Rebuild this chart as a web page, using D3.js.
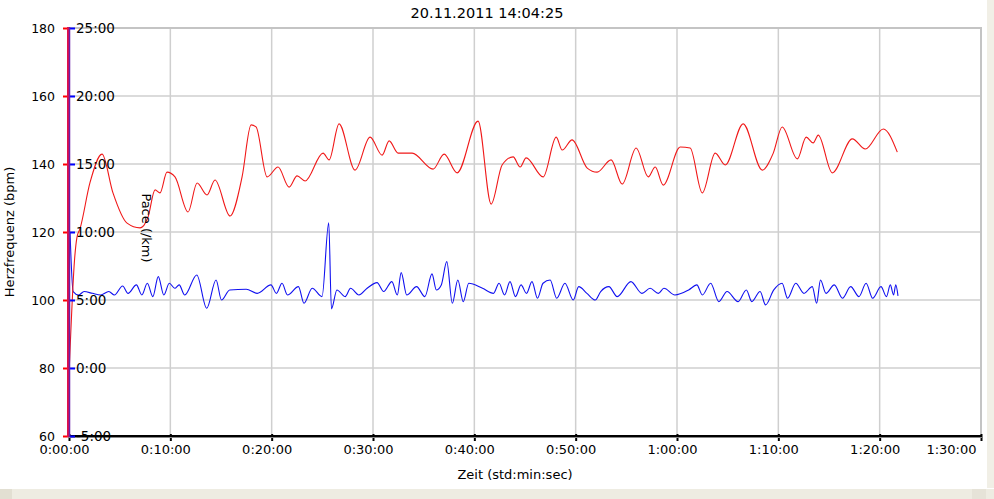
<!DOCTYPE html>
<html>
<head>
<meta charset="utf-8">
<script src="https://d3js.org/d3.v7.min.js"></script>
<style>
  html, body { margin: 0; padding: 0; background: #fff; }
  svg { display: block; font-family: "DejaVu Sans", Verdana, sans-serif; }
</style>
</head>
<body>
<svg width="994" height="499"></svg>
<script>
// time in minutes, heart rate in bpm
var hrTime = [0.05, 0.55, 0.79, 1.09, 2.07, 3.26, 4.34, 5.73, 7.01, 7.80, 8.49, 8.98, 9.67, 10.46, 11.75, 12.64, 13.62, 14.41, 15.89, 17.08, 17.97, 18.46, 19.55, 20.63, 21.72, 22.51, 23.30, 25.07, 25.67, 26.65, 28.23, 29.71, 30.90, 31.59, 32.48, 33.86, 35.93, 37.02, 38.30, 40.37, 41.66, 42.74, 43.83, 44.52, 45.11, 46.79, 48.08, 48.67, 49.65, 51.14, 52.12, 53.50, 54.59, 55.97, 57.16, 57.85, 58.64, 60.32, 61.30, 62.49, 63.77, 64.76, 66.53, 68.41, 69.50, 70.38, 71.87, 72.75, 73.44, 73.94, 75.32, 77.30, 78.58, 80.36, 81.74];
var hrValue = [81.5, 112.0, 118.5, 121.0, 134.5, 142.9, 131.5, 122.6, 121.2, 124.4, 132.4, 131.5, 137.6, 136.2, 125.9, 134.4, 130.9, 135.3, 124.7, 136.2, 151.5, 150.9, 136.2, 139.1, 133.2, 136.5, 135.0, 143.2, 141.2, 151.8, 138.2, 147.9, 142.6, 146.8, 143.2, 143.2, 138.5, 142.9, 137.4, 152.6, 128.2, 139.7, 142.1, 139.1, 141.8, 136.2, 147.9, 144.1, 147.1, 138.8, 137.6, 141.2, 134.1, 144.7, 136.2, 139.1, 133.8, 145.0, 144.7, 131.5, 143.2, 139.7, 151.8, 138.2, 143.2, 150.9, 141.5, 147.9, 146.2, 148.5, 137.4, 147.4, 144.4, 150.3, 143.5];

// time in minutes, pace in min/km
var paceTime = [0.10, 0.41, 0.95, 1.49, 2.31, 3.12, 3.93, 4.48, 5.29, 5.83, 6.65, 7.19, 7.73, 8.27, 8.81, 9.36, 9.90, 10.44, 10.87, 11.42, 12.61, 13.59, 14.51, 15.05, 15.86, 17.49, 18.58, 19.93, 20.47, 21.02, 21.56, 22.64, 23.19, 24.00, 24.97, 25.63, 25.90, 26.44, 27.25, 27.79, 28.61, 29.42, 30.40, 31.05, 31.86, 32.40, 32.78, 33.33, 34.30, 35.12, 35.82, 36.25, 36.74, 37.28, 37.83, 38.37, 38.91, 39.45, 40.81, 41.89, 42.44, 42.98, 43.52, 44.06, 44.61, 45.15, 45.69, 46.23, 46.78, 47.48, 48.13, 48.94, 49.76, 50.30, 51.11, 51.93, 52.47, 53.28, 54.10, 55.45, 56.54, 57.35, 58.16, 58.71, 59.79, 61.15, 61.96, 62.50, 63.32, 64.13, 64.94, 66.03, 66.84, 67.38, 68.20, 68.74, 69.55, 70.37, 70.91, 71.72, 72.53, 73.35, 73.78, 74.16, 74.70, 75.52, 76.33, 77.14, 77.96, 78.66, 79.31, 80.13, 80.67, 81.05, 81.37, 81.59, 81.81];
var paceValue = [10.0, 5.62, 5.37, 5.62, 5.49, 5.37, 5.62, 5.37, 6.03, 5.49, 6.11, 5.37, 6.23, 5.25, 6.72, 5.37, 6.23, 5.86, 6.11, 5.37, 6.84, 4.39, 6.47, 5.00, 5.74, 5.79, 5.49, 6.11, 5.49, 6.23, 5.37, 5.98, 4.76, 5.86, 5.25, 10.68, 4.35, 5.74, 5.25, 5.86, 5.37, 5.86, 6.28, 5.62, 6.35, 5.37, 7.01, 5.37, 5.98, 5.25, 6.92, 5.74, 6.11, 7.82, 4.76, 6.47, 4.88, 6.23, 5.86, 5.49, 6.23, 5.37, 6.35, 5.25, 6.11, 5.49, 6.35, 5.13, 6.23, 6.47, 5.13, 6.23, 5.00, 5.98, 5.49, 5.00, 5.62, 5.98, 5.25, 6.35, 5.49, 5.86, 5.49, 5.86, 5.37, 5.74, 6.11, 5.37, 6.23, 4.88, 5.62, 4.88, 5.74, 4.88, 5.62, 4.64, 5.74, 6.23, 5.13, 6.23, 5.49, 5.98, 4.76, 6.47, 5.49, 6.11, 5.13, 5.98, 5.25, 6.23, 5.13, 5.98, 5.25, 6.11, 5.37, 6.11, 5.30];

var timeTicks = [0, 10, 20, 30, 40, 50, 60, 70, 80, 90];
var hrTicks = [60, 80, 100, 120, 140, 160, 180];
var paceTicks = [-5, 0, 5, 10, 15, 20, 25];

var svg = d3.select('svg');

// window chrome (scroll bars)
svg.append('rect').attr('x', 987).attr('y', 0).attr('width', 7).attr('height', 488).attr('fill', '#f1efe6');
svg.append('rect').attr('x', 0).attr('y', 489).attr('width', 994).attr('height', 10).attr('fill', '#eeece2');
svg.append('rect').attr('x', 0).attr('y', 489).attr('width', 12).attr('height', 10).attr('fill', '#e2dfd2');
svg.append('rect').attr('x', 972).attr('y', 489).attr('width', 14).attr('height', 10).attr('fill', '#e6e3d8');

var x = d3.scaleLinear().domain([0, 90]).range([69, 981]);
var yHr = d3.scaleLinear().domain([60, 180]).range([436, 28]);
var yPace = d3.scaleLinear().domain([-5, 25]).range([436, 28]);

// grid
svg.append('g').selectAll('line').data(timeTicks.slice(1)).enter().append('line')
  .attr('x1', function(d) { return x(d); }).attr('x2', function(d) { return x(d); })
  .attr('y1', 28).attr('y2', 436)
  .attr('stroke', '#cfcfcf').attr('stroke-width', 1.5);
svg.append('g').selectAll('line').data(hrTicks.slice(1)).enter().append('line')
  .attr('x1', 69).attr('x2', 981)
  .attr('y1', function(d) { return yHr(d); }).attr('y2', function(d) { return yHr(d); })
  .attr('stroke', '#cfcfcf').attr('stroke-width', 1.5);
svg.append('line').attr('x1', 981).attr('x2', 981).attr('y1', 27).attr('y2', 436)
  .attr('stroke', '#c4c4c4').attr('stroke-width', 2);
svg.append('line').attr('x1', 69).attr('x2', 982).attr('y1', 28).attr('y2', 28)
  .attr('stroke', '#c4c4c4').attr('stroke-width', 2);

// series
var hrLine = d3.line()
  .x(function(d, i) { return x(hrTime[i]); })
  .y(function(d) { return yHr(d); })
  .curve(d3.curveMonotoneX);
var paceLine = d3.line()
  .x(function(d, i) { return x(paceTime[i]); })
  .y(function(d) { return yPace(d); })
  .curve(d3.curveMonotoneX);

svg.append('path').attr('d', paceLine(paceValue))
  .attr('fill', 'none').attr('stroke', '#1010f0').attr('stroke-width', 1.1);
svg.append('path').attr('d', hrLine(hrValue))
  .attr('fill', 'none').attr('stroke', '#f01818').attr('stroke-width', 1.1);

// x axis
var xAxis = svg.append('g').attr('transform', 'translate(0,436)')
  .call(d3.axisBottom(x).tickValues(timeTicks).tickSize(5).tickPadding(4)
    .tickFormat(function(d) { return Math.floor(d / 60) + ':' + d3.format('02')(d % 60) + ':00'; }));
xAxis.select('.domain').remove();
xAxis.selectAll('.tick line').attr('stroke', '#000').attr('stroke-width', 2).attr('y1', -2);
xAxis.selectAll('text').attr('font-size', 13).attr('fill', '#000').attr('dx', -5)
  .attr('font-family', '"DejaVu Sans", Verdana, sans-serif');
xAxis.selectAll('.tick').filter(function(d) { return d === 90; }).select('text')
  .attr('text-anchor', 'end').attr('dx', -5);
svg.append('line').attr('x1', 69).attr('x2', 982).attr('y1', 437).attr('y2', 437)
  .attr('stroke', '#888').attr('stroke-width', 2);
svg.append('line').attr('x1', 69).attr('x2', 982).attr('y1', 436).attr('y2', 436)
  .attr('stroke', '#000').attr('stroke-width', 2);

// heart rate axis
var hrAxis = svg.append('g').attr('transform', 'translate(68,0)')
  .call(d3.axisLeft(yHr).tickValues(hrTicks).tickSize(5).tickPadding(8));
hrAxis.select('.domain').remove();
hrAxis.selectAll('.tick line').attr('stroke', '#ff0000').attr('stroke-width', 2);
hrAxis.selectAll('text').attr('font-size', 12.5).attr('fill', '#000')
  .attr('font-family', '"DejaVu Sans", Verdana, sans-serif');

// pace axis
var paceAxis = svg.append('g').attr('transform', 'translate(70,0)')
  .call(d3.axisRight(yPace).tickValues(paceTicks).tickSize(5).tickPadding(1)
    .tickFormat(function(d) { return d + ':00'; }));
paceAxis.select('.domain').remove();
paceAxis.selectAll('.tick line').attr('stroke', '#0000ff').attr('stroke-width', 2);
paceAxis.selectAll('text').attr('font-size', 13.5).attr('fill', '#000')
  .attr('font-family', '"DejaVu Sans", Verdana, sans-serif');

svg.append('line').attr('x1', 68.5).attr('x2', 68.5).attr('y1', 27).attr('y2', 437)
  .attr('stroke', '#e0104a').attr('stroke-width', 3);
svg.append('line').attr('x1', 69.5).attr('x2', 69.5).attr('y1', 27).attr('y2', 437)
  .attr('stroke', '#6a1fa8').attr('stroke-width', 1.5);

// labels
svg.append('text').attr('x', 487).attr('y', 18).attr('text-anchor', 'middle')
  .style('font-size', '14.5px').text('20.11.2011 14:04:25');
svg.append('text').attr('transform', 'translate(14,232) rotate(-90)').attr('text-anchor', 'middle')
  .style('font-size', '13px').text('Herzfrequenz (bpm)');
svg.append('text').attr('transform', 'translate(142,228) rotate(90)').attr('text-anchor', 'middle')
  .style('font-size', '13px').text('Pace (/km)');
svg.append('text').attr('x', 515).attr('y', 479).attr('text-anchor', 'middle')
  .style('font-size', '13px').text('Zeit (std:min:sec)');
</script>
</body>
</html>
